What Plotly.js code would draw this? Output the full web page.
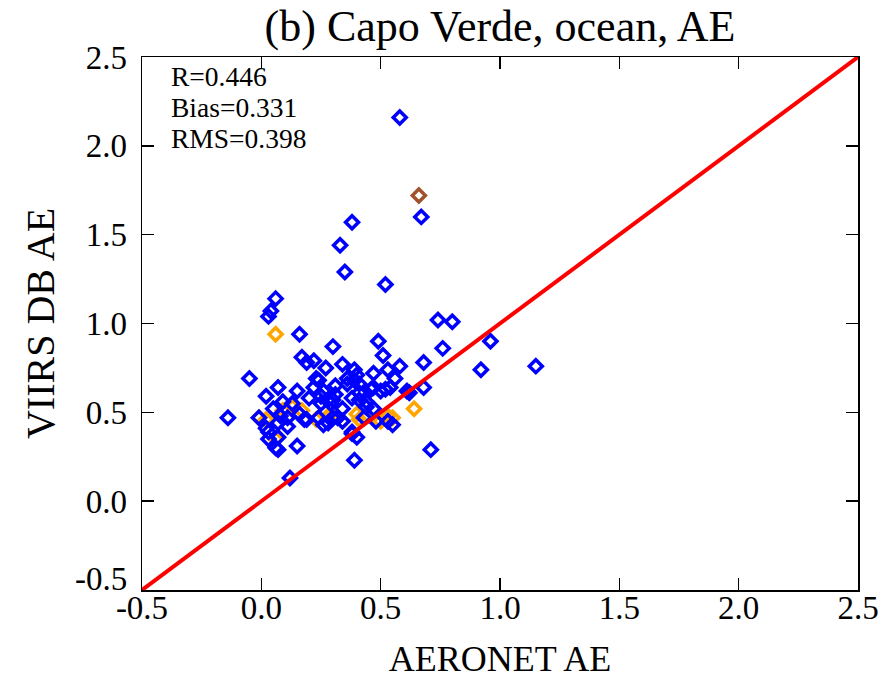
<!DOCTYPE html>
<html>
<head>
<meta charset="utf-8">
<script src="https://cdn.plot.ly/plotly-3.0.1.min.js"></script>
<style>html,body{margin:0;padding:0;background:#fff;}#chart{width:888px;height:679px;}</style>
</head>
<body>
<div id="chart"></div>
<script>
// AERONET AE (x) vs VIIRS DB AE (y)
const blueX = [0.58,0.67,0.38,0.33,0.35,0.52,0.06,0.04,0.03,0.16,0.74,0.80,0.96,0.49,0.30,0.76,1.15,0.92,0.68,-0.05,
  0.68,0.71,0.39,0.12,-0.14,0.55,0.15,0.07,0.38,0.17,0.19,0.22,0.27,0.34,0.39,0.47,0.51,0.53,0.58,0.56,
  0.07,0.02,0.15,0.23,0.24,0.22,0.31,0.36,0.39,0.40,0.41,0.47,0.50,0.54,0.61,0.05,0.09,0.13,0.20,0.25,
  0.28,0.30,0.25,0.38,0.41,0.44,0.47,0.34,-0.01,0.02,0.03,0.07,0.11,0.08,0.11,0.16,0.18,0.19,0.24,0.26,
  0.28,0.30,0.32,0.34,0.48,0.38,0.40,0.03,0.07,0.06,0.46,0.52,0.62,0.36,0.41,0.31,0.26,0.29,0.44,0.43,0.53];
const blueY = [2.16,1.60,1.57,1.44,1.29,1.22,1.14,1.07,1.04,0.94,1.02,1.01,0.90,0.90,0.87,0.86,0.76,0.74,0.78,0.69,
  0.64,0.29,0.23,0.13,0.47,0.43,0.31,0.29,0.38,0.81,0.78,0.79,0.75,0.77,0.74,0.72,0.82,0.74,0.76,0.69,
  0.64,0.59,0.62,0.69,0.68,0.64,0.65,0.69,0.68,0.71,0.66,0.64,0.62,0.64,0.62,0.52,0.56,0.55,0.58,0.59,
  0.57,0.57,0.55,0.58,0.57,0.56,0.52,0.52,0.47,0.41,0.39,0.44,0.42,0.48,0.47,0.49,0.46,0.46,0.47,0.43,
  0.44,0.47,0.47,0.45,0.45,0.39,0.36,0.35,0.36,0.30,0.63,0.63,0.61,0.66,0.61,0.60,0.62,0.55,0.53,0.47,0.45];
const orangeX = [0.06,0.64,0.02,0.09,0.17,0.06,0.23,0.30,0.41,0.44,0.53,0.55,0.28,0.34,0.50,-0.01,0.13,0.40];
const orangeY = [0.94,0.52,0.46,0.51,0.51,0.35,0.46,0.48,0.46,0.48,0.48,0.47,0.48,0.45,0.45,0.47,0.53,0.49];
const brownX = [0.66];
const brownY = [1.72];
const oneToOne = [-0.5, 2.5];
const statLines = ["R=0.446", "Bias=0.331", "RMS=0.398"];
const tickVals = [-0.5, 0.0, 0.5, 1.0, 1.5, 2.0, 2.5];
const tickText = ["-0.5", "0.0", "0.5", "1.0", "1.5", "2.0", "2.5"];

const serif = "Liberation Serif, Times New Roman, serif";
const mk = (c) => ({symbol: 'diamond-open', size: 10, color: c, line: {width: 3.5, color: c}});

const traces = [
  {x: orangeX, y: orangeY, mode: 'markers', type: 'scatter', marker: mk('#FFA500')},
  {x: blueX, y: blueY, mode: 'markers', type: 'scatter', marker: mk('#0000FF')},
  {x: brownX, y: brownY, mode: 'markers', type: 'scatter', marker: mk('#A0522D')},
  {x: oneToOne, y: oneToOne, mode: 'lines', type: 'scatter', line: {color: '#FF0000', width: 4}}
];

const axisCommon = {
  range: [-0.5, 2.5], tickvals: tickVals,
  ticks: 'inside', ticklen: 12, tickwidth: 1.5, tickcolor: '#000',
  showline: true, linecolor: '#000', linewidth: 1.5, mirror: 'allticks',
  showgrid: false, zeroline: false,
  tickfont: {family: serif, size: 33, color: '#000'}
};

// y-axis: the lowest label is lifted above the corner (as in the reference), drawn as an annotation
const yTickText = tickText.map((t, i) => i === 0 ? ' ' : t);

const annotations = statLines.map((t, i) => ({
  xref: 'paper', yref: 'paper', x: 0.038, y: 0.964 - i * 0.058,
  xanchor: 'left', yanchor: 'middle', showarrow: false, text: t,
  font: {family: serif, size: 27.5, color: '#000'}
}));
annotations.push({
  xref: 'paper', yref: 'y', x: -0.018, y: tickVals[0], yshift: 11,
  xanchor: 'right', yanchor: 'middle', showarrow: false, text: tickText[0],
  font: {family: serif, size: 33, color: '#000'}
});

const layout = {
  width: 888, height: 679,
  margin: {l: 142, r: 30, t: 57, b: 89},
  paper_bgcolor: '#fff', plot_bgcolor: '#fff',
  showlegend: false,
  title: {text: '(b) Capo Verde, ocean, AE', x: 0.5, xref: 'paper', y: 0.962, yanchor: 'middle',
          font: {family: serif, size: 44, color: '#000'}},
  xaxis: Object.assign({}, axisCommon, {ticktext: tickText, ticklabelstandoff: -12,
          title: {text: 'AERONET AE', standoff: 20, font: {family: serif, size: 36, color: '#000'}}}),
  yaxis: Object.assign({}, axisCommon, {ticktext: yTickText, ticklabelstandoff: 7,
          title: {text: 'VIIRS DB AE', standoff: 18, font: {family: serif, size: 40, color: '#000'}}}),
  annotations: annotations
};

Plotly.newPlot('chart', traces, layout, {staticPlot: true, displayModeBar: false});
</script>
</body>
</html>
